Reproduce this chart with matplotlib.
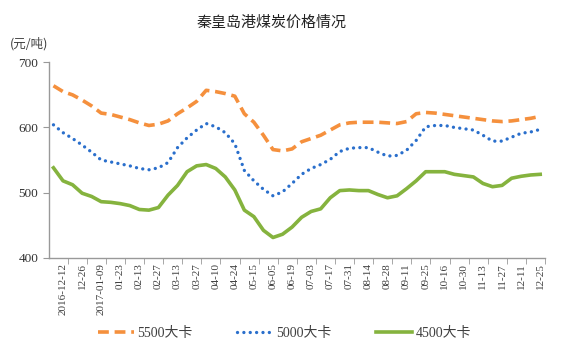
import matplotlib
matplotlib.use('Agg')
import matplotlib.pyplot as plt
import numpy as np

# weekly prices, 52 points (labels shown every second week)
price_5500 = [664, 655, 650, 642, 633, 622, 620, 616, 612, 607, 603, 605, 610, 621,
              630, 640, 657, 655, 652, 648, 621, 608, 588, 566, 564, 567, 578,
              583, 588, 596, 604, 607, 608, 608, 608, 607, 606, 609, 621, 623,
              622, 620, 618, 616, 614, 612, 610, 609, 610, 612, 614, 617]
price_5000 = [604, 592, 583, 573, 562, 550, 547, 544, 541, 537, 535, 538, 546, 569,
              584, 596, 606, 601, 592, 575, 534, 518, 505, 495, 501, 514, 528,
              537, 543, 551, 563, 568, 569, 569, 562, 556, 557, 565, 580, 601,
              603, 603, 600, 598, 596, 588, 579, 579, 585, 591, 593, 597]
price_4500 = [538, 518, 512, 499, 494, 486, 485, 483, 480, 474, 473, 477, 496, 511,
              532, 541, 543, 537, 524, 504, 473, 463, 442, 431, 436, 447, 462,
              471, 475, 492, 503, 504, 503, 503, 497, 492, 495, 506, 518, 532,
              532, 532, 528, 526, 524, 514, 509, 511, 522, 525, 527, 528]

date_labels = ['2016-12-12', '12-26', '2017-01-09', '01-23', '02-13', '02-27', '03-13',
               '03-27', '04-10', '04-24', '05-15', '06-05', '06-19', '07-03', '07-17',
               '07-31', '08-14', '08-28', '09-11', '09-25', '10-16', '10-30', '11-13',
               '11-27', '12-11', '12-25']

series_names = ['5500大卡', '5000大卡', '4500大卡']

serif_cjk = ['Liberation Serif', 'Noto Sans CJK SC']
plt.rcParams['font.family'] = ['Noto Sans CJK SC', 'DejaVu Sans']

fig = plt.figure(figsize=(5.63, 3.53), dpi=100)
ax = fig.add_axes([0.0865, 0.270, 0.8815, 0.5535])

x = np.arange(len(price_5500))
ax.plot(x, price_5500, color='#F5903D', lw=2.6, ls=(0, (3, 1.6)), label=series_names[0])
ax.plot(x, price_5000, color='#2A6FCC', lw=2.4, ls=(0, (0.01, 1.9)),
        dash_capstyle='round', label=series_names[1])
ax.plot(x, price_4500, color='#85B33E', lw=2.6, label=series_names[2])

ax.set_xlim(-0.5, len(x) - 0.5)
ax.set_ylim(400, 700)
ax.set_yticks([400, 500, 600, 700])

ax.set_xticks(np.arange(1, len(x), 2))
ax.set_xticklabels(date_labels, rotation=90, family='Liberation Serif',
                   fontsize=8, color='#404040')
ax.set_xticks(np.arange(1.5, len(x), 2), minor=True)
ax.tick_params(axis='x', which='major', length=0, pad=4)
ax.tick_params(axis='x', which='minor', length=4, color='#999999', direction='out')
ax.tick_params(axis='y', length=4, color='#999999', labelsize=9.5, labelcolor='#333333')
for lab in ax.get_yticklabels():
    lab.set_family('Liberation Serif')

for s in ['top', 'right']:
    ax.spines[s].set_visible(False)
for s in ['left', 'bottom']:
    ax.spines[s].set_color('#999999')
    ax.spines[s].set_linewidth(1)

fig.text(0.482, 0.935, '秦皇岛港煤炭价格情况', ha='center', va='center', fontsize=10.8,
         color='#222222')
fig.text(0.018, 0.875, '(元/吨)', ha='left', va='center', fontsize=9, color='#404040')

leg = fig.legend(loc='center', bbox_to_anchor=(0.505, 0.055), ncol=3, frameon=False,
                 handlelength=2.6, columnspacing=3.2, handletextpad=0.25,
                 prop={'family': serif_cjk, 'size': 10})
for t in leg.get_texts():
    t.set_color('#404040')

fig.savefig('out.png', dpi=100)
